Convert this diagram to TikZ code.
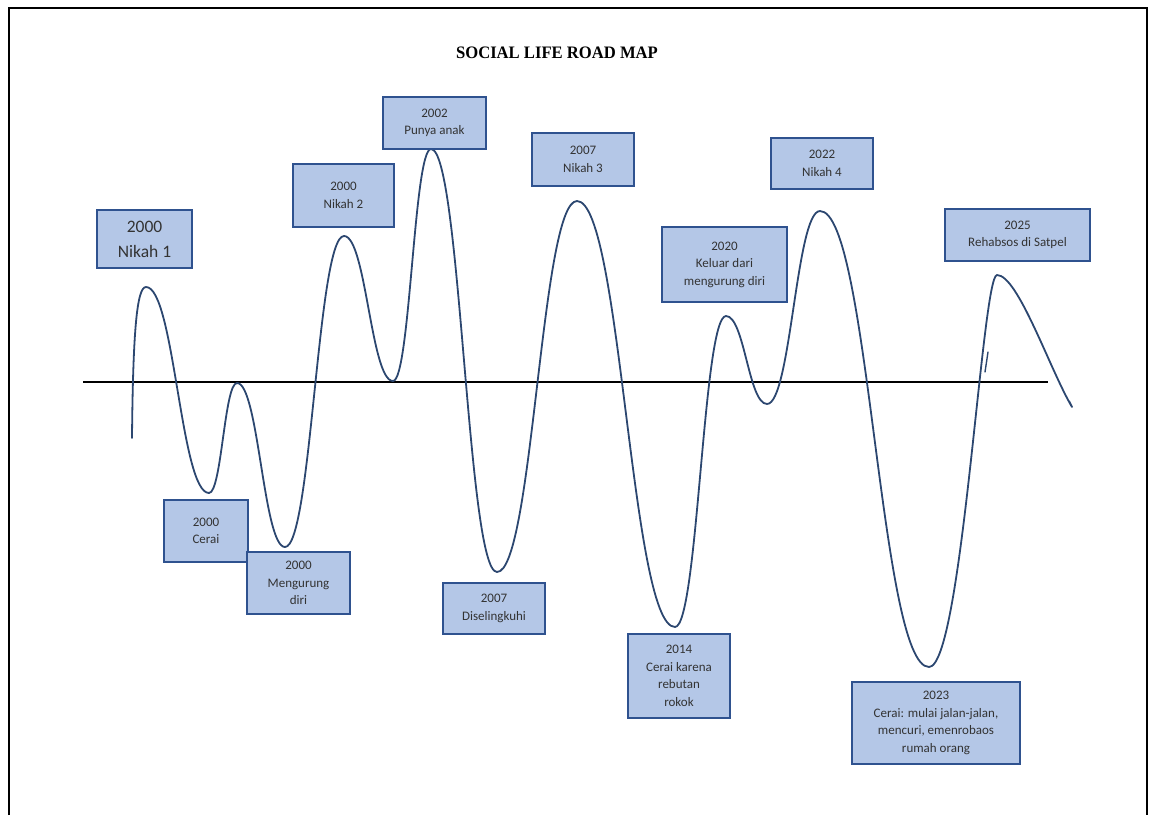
\documentclass[tikz,border=0pt]{standalone}
\usepackage{fontspec}
\setmainfont{Carlito}
\newfontfamily\titlefont{Liberation Serif}
\definecolor{boxfill}{HTML}{B4C7E7}
\definecolor{boxline}{HTML}{2F528F}
\definecolor{curveblue}{HTML}{2C4770}
\begin{document}
\begin{tikzpicture}[x=1pt,y=-1pt,
  evbox/.style={draw=boxline,fill=boxfill,line width=1.6pt,rectangle,inner sep=0pt,
    align=center,font=\fontsize{13}{17.5}\selectfont,text=black!80},
  bigbox/.style={evbox,font=\fontsize{17.5}{25}\selectfont},
  road/.style={draw=curveblue,line width=1.8pt,line join=round,line cap=round},
  axisline/.style={draw=black,line width=1.4pt},
  frame/.style={draw=black,line width=2pt}]
\useasboundingbox (0,0) rectangle (1152,815);
% page frame
\draw[frame] (9,815) -- (9,8) -- (1147,8) -- (1147,815);
% title
\node[font=\titlefont\bfseries\fontsize{17.5}{20}\selectfont,xscale=0.95] (title) at (557,53) {SOCIAL LIFE ROAD MAP};
% axis
\coordinate (axL) at (83,382);
\coordinate (axR) at (1048,382);
\draw[axisline] (axL) -- (axR);
% road curve
\draw[road] (132,438) .. controls (133,330) and (137,287) .. (146,287)
  .. controls (174.35,287) and (180.65,493) .. (209,493)
  .. controls (221.6,493) and (224.4,383) .. (237,383)
  .. controls (258.6,383) and (263.4,547) .. (285,547)
  .. controls (311.55,547) and (317.45,236) .. (344,236)
  .. controls (366.05,236) and (370.95,381) .. (393,381)
  .. controls (410.1,381) and (413.9,149) .. (431,149)
  .. controls (460.7,149) and (467.3,572) .. (497,572)
  .. controls (533,572) and (541,201) .. (577,201)
  .. controls (621.1,201) and (630.9,627) .. (675,627)
  .. controls (697.95,627) and (703.05,316) .. (726,316)
  .. controls (744.45,316) and (748.55,404) .. (767,404)
  .. controls (790.85,404) and (796.15,211) .. (820,211)
  .. controls (869.05,211) and (879.95,667) .. (929,667)
  .. controls (962,667) and (982,275) .. (997,275)
  .. controls (1018,275) and (1050,370) .. (1072,407)
  -- (1069,401);
\draw[road,line width=1.4pt] (985,372) -- (988,352);
% event boxes
\node[bigbox,minimum width=95pt,minimum height=58pt] (n1) at (144.5,239) {2000\\Nikah 1};
\node[evbox,minimum width=84pt,minimum height=62pt] (cerai) at (206,531) {2000\\Cerai};
\node[evbox,minimum width=103pt,minimum height=62pt] (meng) at (298.5,583) {2000\\Mengurung\\diri};
\node[evbox,minimum width=101pt,minimum height=63pt] (n2) at (343.5,195.5) {2000\\Nikah 2};
\node[evbox,minimum width=103pt,minimum height=52pt] (anak) at (434.5,123) {2002\\Punya anak};
\node[evbox,minimum width=102pt,minimum height=51pt] (seling) at (494,608.5) {2007\\Diselingkuhi};
\node[evbox,minimum width=102pt,minimum height=53pt] (n3) at (583,159.5) {2007\\Nikah 3};
\node[evbox,minimum width=125pt,minimum height=75pt] (keluar) at (724.5,264.5) {2020\\Keluar dari\\mengurung diri};
\node[evbox,minimum width=102pt,minimum height=84pt] (c2014) at (679,676) {2014\\Cerai karena\\rebutan\\rokok};
\node[evbox,minimum width=102pt,minimum height=51pt] (n4) at (822,163.5) {2022\\Nikah 4};
\node[evbox,minimum width=145pt,minimum height=52pt] (rehab) at (1017.5,235) {2025\\Rehabsos di Satpel};
\node[evbox,minimum width=168pt,minimum height=82pt] (c2023) at (936,723) {2023\\Cerai: mulai jalan-jalan,\\mencuri, emenrobaos\\rumah orang};
\end{tikzpicture}
\end{document}
